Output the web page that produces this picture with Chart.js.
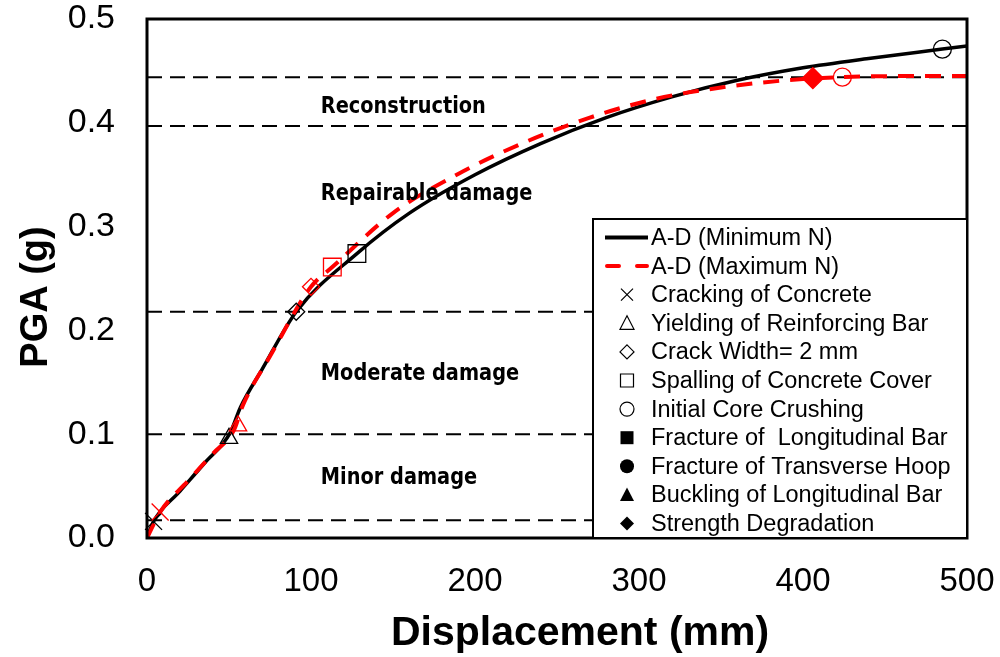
<!DOCTYPE html>
<html>
<head>
<meta charset="utf-8">
<script src="https://cdn.jsdelivr.net/npm/chart.js@4/dist/chart.umd.min.js"></script>
<style>
  html, body { margin: 0; padding: 0; background: #fff; }
  #wrap { width: 1000px; height: 657px; }
</style>
</head>
<body>
<div id="wrap"><canvas id="c" width="1000" height="657"></canvas></div>
<script>
// Capacity curves: displacement (mm) against PGA (g)
const minDisp = [0, 4, 20, 35, 50.6, 57, 70, 91, 128, 160, 200, 240, 280, 320, 360, 400, 440, 485, 500];
const minPGA  = [0, 0.016, 0.045, 0.072, 0.101, 0.126, 0.162, 0.218, 0.274, 0.313, 0.350, 0.380, 0.405, 0.425, 0.441, 0.453, 0.462, 0.471, 0.474];
const maxDisp = [0, 8, 25, 40, 53, 58.5, 75, 100, 113, 150, 190, 230, 270, 310, 350, 390, 424, 460, 500];
const maxPGA  = [0, 0.025, 0.055, 0.081, 0.104, 0.128, 0.175, 0.242, 0.261, 0.313, 0.351, 0.381, 0.405, 0.423, 0.434, 0.441, 0.444, 0.445, 0.445];

// Damage states reached on each curve (null = not reached)
const stateNames = [
  'Cracking of Concrete',
  'Yielding of Reinforcing Bar',
  'Crack Width= 2 mm',
  'Spalling of Concrete Cover',
  'Initial Core Crushing',
  'Fracture of  Longitudinal Bar',
  'Fracture of Transverse Hoop',
  'Buckling of Longitudinal Bar',
  'Strength Degradation'
];
const minStateDisp = [4, 50, 91, 128, 485, null, null, null, null];
const minStatePGA  = [0.016, 0.096, 0.218, 0.274, 0.471, null, null, null, null];
const maxStateDisp = [8, 55.5, 100, 113, 424, null, null, null, 406];
const maxStatePGA  = [0.025, 0.108, 0.242, 0.261, 0.444, null, null, null, 0.443];

// Damage-level limits (PGA) and the zones between them
const limitPGA = [0.017, 0.1, 0.218, 0.397, 0.444];
const zoneNames = ['Minor damage', 'Moderate damage', 'Repairable damage', 'Reconstruction'];

const seriesNames = ['A-D (Minimum N)', 'A-D (Maximum N)'];
const xTicks = [0, 100, 200, 300, 400, 500];
const yTicks = [0, 0.1, 0.2, 0.3, 0.4, 0.5];

// ---- styling ----
const RED = '#ff0000';
const stateStyle = [
  { style: 'crossRot', radius: 12, filled: false },
  { style: 'triangle', radius: 10, filled: false },
  { style: 'rectRot',  radius: 8.5, filled: false },
  { style: 'rect',     radius: 12.5, filled: false },
  { style: 'circle',   radius: 9, filled: false },
  { style: 'rect',     radius: 12.5, filled: true },
  { style: 'circle',   radius: 9, filled: true },
  { style: 'triangle', radius: 10, filled: true },
  { style: 'rectRot',  radius: 10.5, filled: true }
];
// zone label anchors (mm, g)
const zoneLabelX = 106;
const zoneLabelY = [0.052, 0.152, 0.3256, 0.409];

function stateDataset(xs, ys, color) {
  const pts = [], styles = [], radii = [], fills = [];
  xs.forEach((x, i) => {
    if (x === null || ys[i] === null) return;
    pts.push({ x: x, y: ys[i] });
    styles.push(stateStyle[i].style);
    radii.push(stateStyle[i].radius);
    fills.push(stateStyle[i].filled ? color : 'rgba(0,0,0,0)');
  });
  return {
    data: pts, showLine: false, clip: false,
    pointStyle: styles, pointRadius: radii, pointHoverRadius: radii,
    pointBorderColor: color, pointBackgroundColor: fills, pointBorderWidth: 1.3
  };
}
const toPts = (xs, ys) => xs.map((x, i) => ({ x: x, y: ys[i] }));

const datasets = [
  stateDataset(maxStateDisp, maxStatePGA, RED),
  stateDataset(minStateDisp, minStatePGA, '#000'),
  {
    label: seriesNames[1], data: toPts(maxDisp, maxPGA), showLine: true,
    borderColor: RED, borderWidth: 4, borderDash: [16, 11], pointRadius: 0,
    cubicInterpolationMode: 'monotone', fill: false
  },
  {
    label: seriesNames[0], data: toPts(minDisp, minPGA), showLine: true,
    borderColor: '#000', borderWidth: 3.5, pointRadius: 0,
    cubicInterpolationMode: 'monotone', fill: false
  }
];
limitPGA.forEach(v => datasets.push({
  data: [{ x: xTicks[0], y: v }, { x: xTicks[xTicks.length - 1], y: v }],
  showLine: true, borderColor: '#000', borderWidth: 2, borderDash: [15, 8], pointRadius: 0
}));

// ---- glyphs used in the legend box ----
function glyph(ctx, style, x, y, filled, color) {
  ctx.save();
  ctx.strokeStyle = color; ctx.fillStyle = color; ctx.lineWidth = 1.2;
  ctx.beginPath();
  if (style === 'crossRot') {
    const s = 6;
    ctx.moveTo(x - s, y - s); ctx.lineTo(x + s, y + s);
    ctx.moveTo(x + s, y - s); ctx.lineTo(x - s, y + s);
    ctx.stroke(); ctx.restore(); return;
  }
  if (style === 'triangle') {
    ctx.moveTo(x, y - 7.5); ctx.lineTo(x + 7, y + 6); ctx.lineTo(x - 7, y + 6); ctx.closePath();
  } else if (style === 'rectRot') {
    ctx.moveTo(x, y - 7); ctx.lineTo(x + 7, y); ctx.lineTo(x, y + 7); ctx.lineTo(x - 7, y); ctx.closePath();
  } else if (style === 'rect') {
    ctx.rect(x - 6.5, y - 6.5, 13, 13);
  } else if (style === 'circle') {
    ctx.arc(x, y, 7, 0, Math.PI * 2);
  }
  if (filled) ctx.fill(); else ctx.stroke();
  ctx.restore();
}

const decorations = {
  id: 'decorations',
  afterDatasetsDraw(chart) {
    const ctx = chart.ctx, a = chart.chartArea;
    const xs = chart.scales.x, ys = chart.scales.y;

    // damage zone names
    ctx.save();
    ctx.fillStyle = '#000';
    ctx.font = 'bold 23px "DejaVu Sans"';
    ctx.textBaseline = 'alphabetic';
    const k = 165 / ctx.measureText(zoneNames[3]).width;
    zoneNames.forEach((t, i) => {
      ctx.save();
      ctx.translate(xs.getPixelForValue(zoneLabelX), ys.getPixelForValue(zoneLabelY[i]));
      ctx.scale(k, 1);
      ctx.fillText(t, 0, 0);
      ctx.restore();
    });
    ctx.restore();

    // plot frame
    ctx.save();
    ctx.strokeStyle = '#000'; ctx.lineWidth = 3;
    ctx.strokeRect(a.left, a.top, a.right - a.left, a.bottom - a.top);
    ctx.restore();

    // legend box
    const L = 593, T = 219, R = a.right, B = a.bottom;
    ctx.save();
    ctx.fillStyle = '#fff';
    ctx.fillRect(L, T, R - L, B - T);
    ctx.strokeStyle = '#000'; ctx.lineWidth = 2;
    ctx.strokeRect(L, T, R - L, B - T);
    ctx.font = '23.5px "Liberation Sans", Arial, sans-serif';
    ctx.fillStyle = '#000';
    ctx.textBaseline = 'middle';
    const textX = 651, symX = 627, row0 = 237.5, dy = 28.6;
    const rows = seriesNames.concat(stateNames);
    rows.forEach((t, i) => {
      const y = row0 + i * dy;
      if (i === 0) {
        ctx.save(); ctx.strokeStyle = '#000'; ctx.lineWidth = 4;
        ctx.beginPath(); ctx.moveTo(605, y); ctx.lineTo(648, y); ctx.stroke(); ctx.restore();
      } else if (i === 1) {
        ctx.save(); ctx.strokeStyle = RED; ctx.lineWidth = 4; ctx.lineCap = 'round';
        ctx.beginPath(); ctx.moveTo(607, y); ctx.lineTo(619, y);
        ctx.moveTo(637, y); ctx.lineTo(647, y); ctx.stroke(); ctx.restore();
      } else {
        const st = stateStyle[i - 2];
        glyph(ctx, st.style, symX, y, st.filled, '#000');
      }
      ctx.fillText(t, textX, y + 1);
    });
    ctx.restore();

    // axis titles
    ctx.save();
    ctx.fillStyle = '#000';
    ctx.font = 'bold 41px "Liberation Sans", Arial, sans-serif';
    ctx.textAlign = 'center';
    ctx.textBaseline = 'alphabetic';
    ctx.fillText('Displacement (mm)', 580, 645);
    ctx.translate(47, 297);
    ctx.rotate(-Math.PI / 2);
    ctx.font = 'bold 38px "Liberation Sans", Arial, sans-serif';
    ctx.fillText('PGA (g)', 0, 0);
    ctx.restore();
  }
};

// fixed axis boxes, no extra label overhang padding
function fixBox(size, horizontal) {
  return s => {
    if (horizontal) s.height = size; else s.width = size;
    s.paddingLeft = 0; s.paddingRight = 0; s.paddingTop = 0; s.paddingBottom = 0;
  };
}

new Chart(document.getElementById('c'), {
  type: 'scatter',
  data: { datasets: datasets },
  options: {
    responsive: false,
    animation: false,
    devicePixelRatio: 1,
    events: [],
    layout: { padding: { top: 19, right: 33, left: 0, bottom: 0 } },
    plugins: { legend: { display: false }, tooltip: { enabled: false } },
    scales: {
      x: {
        type: 'linear', min: 0, max: 500,
        afterBuildTicks: s => { s.ticks = xTicks.map(v => ({ value: v })); },
        afterFit: fixBox(119, true),
        grid: { display: false, drawTicks: false },
        border: { display: false },
        ticks: {
          color: '#000', padding: 27, maxRotation: 0, autoSkip: false,
          font: { family: '"Liberation Sans", Arial, sans-serif', size: 33, lineHeight: 1 },
          callback: v => String(v)
        }
      },
      y: {
        type: 'linear', min: 0, max: 0.5,
        afterBuildTicks: s => { s.ticks = yTicks.map(v => ({ value: v })); },
        afterFit: fixBox(147, false),
        grid: { display: false, drawTicks: false },
        border: { display: false },
        ticks: {
          color: '#000', padding: 32, autoSkip: false,
          font: { family: '"Liberation Sans", Arial, sans-serif', size: 34, lineHeight: 1 },
          callback: v => v.toFixed(1)
        }
      }
    }
  },
  plugins: [decorations]
});
</script>
</body>
</html>
